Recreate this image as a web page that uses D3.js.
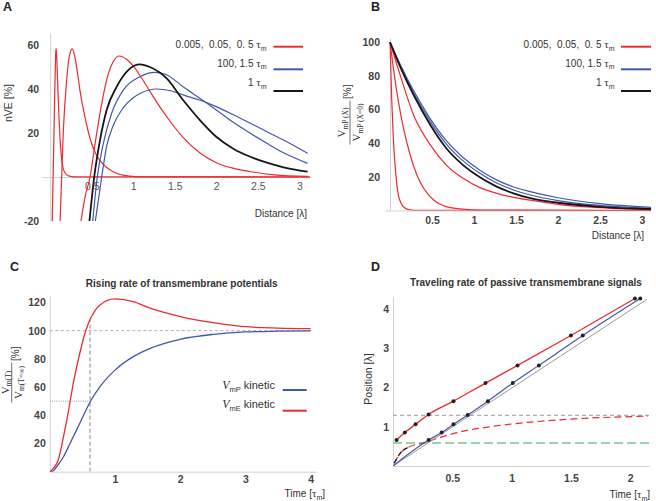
<!DOCTYPE html>
<html lang="en">
<head>
<meta charset="utf-8">
<title>Passive transmembrane signals</title>
<script src="https://cdn.jsdelivr.net/npm/d3@7"></script>
<style>
  body { margin: 0; background: #fff; }
  text { font-family: "Liberation Sans", Arial, sans-serif; }
</style>
</head>
<body>
<script>
// ---- data ----
// A: nVE [%] vs distance [lambda]
var aRed1 = [[0.024,-21],[0.046,21],[0.058,44],[0.065,55],[0.071,58.5],[0.078,55],[0.088,45],[0.10,32],[0.115,20],[0.13,11],[0.15,5],[0.18,1.8],[0.22,0.5],[0.3,0.05],[3.13,0]];
var aRed2 = [[0.118,-21],[0.158,21],[0.198,44],[0.23,54.7],[0.266,58.2],[0.30,54],[0.33,47],[0.36,39],[0.42,27],[0.48,17.5],[0.55,10.5],[0.62,6.5],[0.76,2.4],[0.95,0.4],[1.1,0.05],[3.13,0]];
var aRed3 = [[0.367,-21],[0.42,-9],[0.48,0],[0.54,15],[0.60,29],[0.65,39],[0.70,47],[0.76,52.5],[0.83,55],[0.92,53.5],[1.0,50.5],[1.1,45],[1.2,39],[1.3,33],[1.45,25],[1.6,18],[1.8,11],[2.0,6.5],[2.2,4],[2.4,2.5],[2.7,1],[3.1,0.3]];
var aBlack = [[0.47,-21],[0.53,0],[0.60,16.8],[0.68,30.5],[0.80,41],[0.94,48.6],[1.08,51.2],[1.2,50],[1.4,44.9],[1.6,35],[1.8,26],[2.0,18.3],[2.2,13],[2.41,9.2],[2.61,6.5],[2.81,4.4],[3.1,2.4]];
var aBlue1 = [[0.51,-21],[0.567,0],[0.64,15.3],[0.74,29],[0.88,39.5],[1.08,45.6],[1.26,47.6],[1.4,46.5],[1.6,41],[1.8,35.8],[2.0,30.5],[2.2,25],[2.41,19.9],[2.61,15.3],[2.81,11],[3.1,6.2]];
var aBlue2 = [[0.54,-21],[0.62,0],[0.68,14],[0.76,23.5],[0.88,31.5],[1.0,36],[1.1,38.3],[1.28,40],[1.45,39.2],[1.6,37.3],[1.8,35],[2.0,32],[2.2,28.4],[2.41,24.4],[2.61,20.6],[2.81,16.8],[3.1,10.8]];

// B: normalised V_mP vs distance
var bRed1 = [[0,100],[0.02,66],[0.04,42],[0.06,27],[0.08,16],[0.10,9],[0.13,4.5],[0.17,1.8],[0.22,0.5],[0.3,0.1],[3.11,0]];
var bRed2 = [[0,100],[0.04,84.5],[0.10,64.7],[0.16,48.9],[0.24,33],[0.32,21.1],[0.40,13.2],[0.52,6.2],[0.67,2.3],[0.87,0.8],[1.06,0.2],[3.11,0]];
var bRed3 = [[0,100],[0.12,80.6],[0.28,56.8],[0.48,39],[0.67,27],[0.87,19.1],[1.07,13.6],[1.27,10.2],[1.47,7.8],[1.67,6.2],[2.04,3.4],[2.44,1.8],[3.11,0.5]];
var bBlack = [[0,100],[0.12,85.5],[0.28,68.7],[0.48,50.8],[0.67,37],[0.87,27],[1.07,19.7],[1.27,14.2],[1.47,10.2],[1.67,7.3],[2.0,4.6],[2.5,2.2],[3.11,0.9]];
var bBlue1 = [[0,100],[0.12,86.3],[0.28,70],[0.48,52.8],[0.67,39.5],[0.87,29.5],[1.07,22.1],[1.27,16.3],[1.47,12.2],[1.67,9.2],[2.0,5.9],[2.5,3.0],[3.11,1.3]];
var bBlue2 = [[0,100],[0.12,87],[0.28,71.3],[0.48,54.5],[0.67,41.5],[0.87,31.5],[1.07,24],[1.27,18.2],[1.47,14],[1.67,11.2],[2.0,7.6],[2.5,4.1],[3.11,1.9]];

// C: rising rate
var cBlue = [[0,0],[0.05,0.5],[0.105,3.5],[0.21,10.6],[0.31,20],[0.46,34.3],[0.62,49.6],[0.77,60.3],[1.0,72],[1.28,81.6],[1.54,87.5],[2.0,93.9],[2.51,97.4],[3.0,99.1],[3.5,99.6],[4.0,99.8]];
var cRed = [[0,0],[0.054,2.4],[0.13,8.3],[0.21,24.8],[0.28,41.4],[0.36,62.7],[0.46,84],[0.555,100.5],[0.64,110],[0.77,118.2],[1.0,122.5],[1.28,120.6],[1.54,115.9],[2.0,110],[2.51,105.7],[3.0,102.8],[3.5,101.8],[4.0,101.4]];
var cHalfTime = 0.617;

// D: traveling rate
var dRedT = [0.03,0.10,0.19,0.30,0.51,0.78,1.05,1.50,2.04];
var dRedPos = [0.66,0.85,1.06,1.31,1.65,2.11,2.56,3.32,4.26];
var dBlueT = [0.30,0.41,0.51,0.63,0.80,1.01,1.23,1.60,2.085];
var dBluePos = [0.66,0.85,1.06,1.30,1.65,2.11,2.56,3.32,4.26];
var dGray = [[0,0],[2.14,4.24]];
var dRedDash = [[0.01,0.07],[0.06,0.32],[0.14,0.49],[0.26,0.59],[0.40,0.73],[0.54,0.85],[0.82,1.00],[1.10,1.10],[1.38,1.17],[1.66,1.22],[1.94,1.25],[2.15,1.27]];
var dGrayLevel = 1.29;
var dGreenLevel = 0.585;

var red = "#ec2a30", blue = "#4058a8", black = "#161616";

var svg = d3.select("body").append("svg").attr("width", 656).attr("height", 501);
var clipN = 0;

function makePanel(xDom, xRange, yDom, yRange) {
  var x = d3.scaleLinear().domain(xDom).range(xRange);
  var y = d3.scaleLinear().domain(yDom).range(yRange);
  var id = "clip" + (clipN++);
  svg.append("clipPath").attr("id", id).append("rect")
    .attr("x", xRange[0]).attr("y", yRange[1])
    .attr("width", xRange[1] - xRange[0]).attr("height", yRange[0] - yRange[1]);
  var g = svg.append("g");
  var axes = g.append("g");
  var plot = g.append("g").attr("clip-path", "url(#" + id + ")");
  return { x: x, y: y, g: g, axes: axes, plot: plot };
}

function drawAxes(p, xTicks, yTicks, xPad, yPad, xBold) {
  var ax = p.axes.append("g").attr("transform", "translate(0," + p.y(0) + ")")
    .call(d3.axisBottom(p.x).tickValues(xTicks).tickSize(0).tickPadding(xPad).tickFormat(String));
  var ay = p.axes.append("g").attr("transform", "translate(" + p.x(0) + ",0)")
    .call(d3.axisLeft(p.y).tickValues(yTicks).tickSize(0).tickPadding(yPad).tickFormat(String));
  [ax, ay].forEach(function (a) {
    a.attr("font-family", "Liberation Sans, Arial, sans-serif").attr("font-size", 10.5);
    a.select(".domain").attr("stroke", "#d2d2d2");
    a.selectAll("text").attr("fill", "#444").attr("font-weight", "bold");
  });
  if (!xBold) ax.selectAll("text").attr("font-weight", "normal").attr("fill", "#555");
}

function curve(p, pts, color, width, dash) {
  var line = d3.line().x(function (d) { return p.x(d[0]); }).y(function (d) { return p.y(d[1]); })
    .curve(d3.curveMonotoneX);
  var path = p.plot.append("path").datum(pts).attr("d", line)
    .attr("fill", "none").attr("stroke", color).attr("stroke-width", width);
  if (dash) path.attr("stroke-dasharray", dash);
  return path;
}

// text with optional subscripts
function rich(parent, x, y, parts, anchor, size) {
  var t = parent.append("text").attr("x", x).attr("y", y)
    .attr("text-anchor", anchor || "start").attr("font-size", size || 10)
    .attr("fill", "#333").style("white-space", "pre");
  var shift = 0;
  parts.forEach(function (p) {
    var s = t.append("tspan").text(p.t);
    var target = p.sub ? (p.dy || 2.5) : 0;
    if (target !== shift) { s.attr("dy", target - shift); shift = target; }
    if (p.size) s.attr("font-size", p.size);
    if (p.serif) s.attr("font-family", "Liberation Serif, serif");
    if (p.italic) s.attr("font-style", "italic");
  });
  return t;
}

function tauM(prefix) {
  return [{ t: prefix }, { t: "τ", serif: true, size: 11 }, { t: "m", sub: true, size: 7 }];
}

function letter(x, y, s) {
  svg.append("text").attr("x", x).attr("y", y).attr("font-size", 12.5)
    .attr("font-weight", "bold").attr("fill", "#222").text(s);
}

function legend(lines, textRight, lineX, lineW) {
  lines.forEach(function (d) {
    rich(svg, textRight, d.ty, tauM(d.label), "end", 10);
    svg.append("line").attr("x1", lineX).attr("x2", lineX + lineW)
      .attr("y1", d.ly).attr("y2", d.ly).attr("stroke", d.color).attr("stroke-width", 2);
  });
}

var legendItems = [
  { label: "0.005,  0.05,  0. 5 ", color: red, ty: 48, ly: 46.7 },
  { label: "100, 1.5 ", color: blue, ty: 66.5, ly: 69.3 },
  { label: "1 ", color: black, ty: 86, ly: 91 }
];

// ---------- Panel A ----------
var pA = makePanel([-0.1, 3.13], [41.9, 310.1], [-20, 65.5], [221, 32.9]);
drawAxes(pA, [0.5, 1, 1.5, 2, 2.5, 3], [-20, 20, 40, 60], 6, 11, false);
[aRed1, aRed2, aRed3].forEach(function (c) { curve(pA, c, red, 1.2); });
curve(pA, aBlue2, blue, 1.2);
curve(pA, aBlue1, blue, 1.2);
curve(pA, aBlack, black, 1.8);
letter(3, 11, "A");
svg.append("text").attr("transform", "translate(12,103) rotate(-90)").attr("text-anchor", "middle")
  .attr("font-size", 10.5).attr("fill", "#333").text("nVE [%]");
svg.append("text").attr("x", 307).attr("y", 217).attr("text-anchor", "end")
  .attr("font-size", 10).attr("fill", "#333").text("Distance [λ]");
legend(legendItems, 266.5, 273.5, 29.5);

// ---------- Panel B ----------
var pB = makePanel([-0.06, 3.11], [385, 651.2], [0, 102.6], [210.5, 37.9]);
drawAxes(pB, [0.5, 1, 1.5, 2, 2.5, 3], [20, 40, 60, 80, 100], 6, 10, true);
[bRed1, bRed2, bRed3].forEach(function (c) { curve(pB, c, red, 1.2); });
curve(pB, bBlue2, blue, 1.2);
curve(pB, bBlue1, blue, 1.2);
curve(pB, bBlack, black, 1.8);
letter(371, 11, "B");
svg.append("text").attr("x", 644).attr("y", 239).attr("text-anchor", "end")
  .attr("font-size", 10).attr("fill", "#333").text("Distance [λ]");
legend(legendItems, 614.5, 621, 30);

function fracLabel(cx, cy, num, den, len, nY, dY, pctY) {
  var g = svg.append("g").attr("transform", "translate(" + cx + "," + cy + ") rotate(-90)");
  rich(g, 0, nY, num, "middle", 11);
  g.append("line").attr("x1", -len / 2).attr("x2", len / 2).attr("y1", 0).attr("y2", 0)
    .attr("stroke", "#333").attr("stroke-width", 0.7);
  rich(g, 0, dY, den, "middle", 11);
  g.append("text").attr("x", len / 2 + 1.5).attr("y", pctY).attr("font-size", 10)
    .attr("fill", "#333").text("[%]");
}
fracLabel(350, 122.5,
  [{ t: "V", serif: true }, { t: "mP (X)", sub: true, size: 7.5, serif: true }],
  [{ t: "V", serif: true }, { t: "mP (X=0)", sub: true, size: 7.5, serif: true }],
  44, -5, 10, 1);

// ---------- Panel C ----------
var pC = makePanel([0, 4.1], [49.8, 317.1], [0, 125], [471.7, 295.4]);
drawAxes(pC, [1, 2, 3, 4], [20, 40, 60, 80, 100, 120], 4, 4, true);
pC.plot.append("line").attr("x1", pC.x(0)).attr("x2", pC.x(4.05)).attr("y1", pC.y(100)).attr("y2", pC.y(100))
  .attr("stroke", "#999").attr("stroke-width", 0.8).attr("stroke-dasharray", "3,2.5");
pC.plot.append("line").attr("x1", pC.x(cHalfTime)).attr("x2", pC.x(cHalfTime)).attr("y1", pC.y(0)).attr("y2", pC.y(108))
  .attr("stroke", "#666").attr("stroke-width", 0.8).attr("stroke-dasharray", "4,2.5");
pC.plot.append("line").attr("x1", pC.x(0)).attr("x2", pC.x(cHalfTime)).attr("y1", pC.y(50)).attr("y2", pC.y(50))
  .attr("stroke", "#888").attr("stroke-width", 0.8).attr("stroke-dasharray", "1,1.2");
curve(pC, cBlue, blue, 1.3);
curve(pC, cRed, red, 1.3);
letter(10, 271, "C");
svg.append("text").attr("x", 181.7).attr("y", 287).attr("text-anchor", "middle").attr("font-size", 10)
  .attr("font-weight", "bold").attr("fill", "#333").text("Rising rate of transmembrane potentials");
rich(svg, 325, 497, tauM("Time ["), "end", 10).append("tspan").attr("dy", -2.5).text("]");
fracLabel(11.7, 382.5,
  [{ t: "V", serif: true }, { t: "m(T)", sub: true, size: 7.5, serif: true }],
  [{ t: "V", serif: true }, { t: "m(T=∞)", sub: true, size: 7.5, serif: true }],
  40, -3, 10, 7.5);
[{ s: "mP", color: blue, ty: 389, ly: 390 }, { s: "mE", color: red, ty: 408.3, ly: 410.7 }].forEach(function (d) {
  rich(svg, 275, d.ty, [{ t: "V", serif: true, italic: true, size: 12 }, { t: d.s, sub: true, size: 7.5 },
    { t: " kinetic" }], "end", 11);
  svg.append("line").attr("x1", 282.7).attr("x2", 306.7).attr("y1", d.ly).attr("y2", d.ly)
    .attr("stroke", d.color).attr("stroke-width", 2);
});

// ---------- Panel D ----------
var pD = makePanel([0, 2.16], [393, 649.2], [0, 4.32], [466, 296.2]);
drawAxes(pD, [0.5, 1, 1.5, 2], [1, 2, 3, 4], 9, 4, true);
pD.plot.append("line").attr("x1", pD.x(0)).attr("x2", pD.x(2.16)).attr("y1", pD.y(dGrayLevel)).attr("y2", pD.y(dGrayLevel))
  .attr("stroke", "#999").attr("stroke-width", 1).attr("stroke-dasharray", "4,3");
pD.plot.append("line").attr("x1", pD.x(0)).attr("x2", pD.x(2.16)).attr("y1", pD.y(dGreenLevel)).attr("y2", pD.y(dGreenLevel))
  .attr("stroke", "#3da85a").attr("stroke-width", 1.2).attr("stroke-dasharray", "9,4");
curve(pD, dRedDash, red, 1.2, "7,4");
curve(pD, dRedDash.slice(0, 3), black, 1.2, "5,3");
curve(pD, dGray, "#999", 1);
var bluePts = [[0, 0]].concat(dBlueT.map(function (t, i) { return [t, dBluePos[i]]; }));
var redPts = dRedT.map(function (t, i) { return [t, dRedPos[i]]; });
curve(pD, bluePts, blue, 1.2);
curve(pD, redPts, red, 1.3);
pD.g.append("g").selectAll("circle").data(redPts.concat(bluePts.slice(1))).enter().append("circle")
  .attr("cx", function (d) { return pD.x(d[0]); }).attr("cy", function (d) { return pD.y(d[1]); })
  .attr("r", 2).attr("fill", "#222");
letter(371, 271, "D");
svg.append("text").attr("x", 526).attr("y", 285.5).attr("text-anchor", "middle").attr("font-size", 10)
  .attr("font-weight", "bold").attr("fill", "#333").text("Traveling rate of passive transmembrane signals");
svg.append("text").attr("transform", "translate(372,379) rotate(-90)").attr("text-anchor", "middle")
  .attr("font-size", 10.5).attr("fill", "#333").text("Position [λ]");
rich(svg, 650, 498, tauM("Time ["), "end", 10).append("tspan").attr("dy", -2.5).text("]");
</script>
</body>
</html>
